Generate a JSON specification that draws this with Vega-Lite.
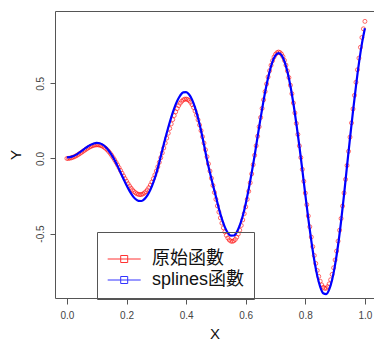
{
  "$schema": "https://vega.github.io/schema/vega-lite/v6.json",
  "autosize": {"type": "none"},
  "width": 319,
  "height": 287,
  "padding": {"left": 55, "top": 11, "right": 0, "bottom": 42},
  "background": "white",
  "config": {
    "view": {"stroke": null},
    "axis": {"grid": false, "labelFont": "Liberation Sans", "titleFont": "Liberation Sans", "domainColor": "#555", "tickColor": "#555", "labelColor": "#444", "titleColor": "#111", "titleFontWeight": "normal", "labelFlush": false, "labelOverlap": false}
  },
  "datasets": {
    "orig": [
      {"x":0,"y":0},{"x":0.005,"y":0.0005},{"x":0.01,"y":0.002},{"x":0.015,"y":0.0044},{"x":0.02,"y":0.0078},{"x":0.025,"y":0.012},{"x":0.03,"y":0.0169},{"x":0.035,"y":0.0225},{"x":0.04,"y":0.0287},{"x":0.045,"y":0.0353},{"x":0.05,"y":0.0421},{"x":0.055,"y":0.049},{"x":0.06,"y":0.0559},{"x":0.065,"y":0.0626},{"x":0.07,"y":0.069},{"x":0.075,"y":0.0748},{"x":0.08,"y":0.08},{"x":0.085,"y":0.0843},{"x":0.09,"y":0.0877},{"x":0.095,"y":0.0899},{"x":0.1,"y":0.0909},{"x":0.105,"y":0.0906},{"x":0.11,"y":0.0889},{"x":0.115,"y":0.0858},{"x":0.12,"y":0.0811},{"x":0.125,"y":0.0748},{"x":0.13,"y":0.067},{"x":0.135,"y":0.0577},{"x":0.14,"y":0.0469},{"x":0.145,"y":0.0347},{"x":0.15,"y":0.0212},{"x":0.155,"y":0.0064},{"x":0.16,"y":-0.0093},{"x":0.165,"y":-0.026},{"x":0.17,"y":-0.0434},{"x":0.175,"y":-0.0614},{"x":0.18,"y":-0.0797},{"x":0.185,"y":-0.098},{"x":0.19,"y":-0.1163},{"x":0.195,"y":-0.1341},{"x":0.2,"y":-0.1514},{"x":0.205,"y":-0.1678},{"x":0.21,"y":-0.183},{"x":0.215,"y":-0.197},{"x":0.22,"y":-0.2094},{"x":0.225,"y":-0.2199},{"x":0.23,"y":-0.2286},{"x":0.235,"y":-0.235},{"x":0.24,"y":-0.2391},{"x":0.245,"y":-0.2407},{"x":0.25,"y":-0.2397},{"x":0.255,"y":-0.2361},{"x":0.26,"y":-0.2297},{"x":0.265,"y":-0.2206},{"x":0.27,"y":-0.2087},{"x":0.275,"y":-0.194},{"x":0.28,"y":-0.1768},{"x":0.285,"y":-0.1569},{"x":0.29,"y":-0.1347},{"x":0.295,"y":-0.1103},{"x":0.3,"y":-0.0838},{"x":0.305,"y":-0.0556},{"x":0.31,"y":-0.0258},{"x":0.315,"y":0.0053},{"x":0.32,"y":0.0373},{"x":0.325,"y":0.0699},{"x":0.33,"y":0.1028},{"x":0.335,"y":0.1356},{"x":0.34,"y":0.168},{"x":0.345,"y":0.1996},{"x":0.35,"y":0.23},{"x":0.355,"y":0.2588},{"x":0.36,"y":0.2857},{"x":0.365,"y":0.3104},{"x":0.37,"y":0.3325},{"x":0.375,"y":0.3518},{"x":0.38,"y":0.3678},{"x":0.385,"y":0.3805},{"x":0.39,"y":0.3894},{"x":0.395,"y":0.3946},{"x":0.4,"y":0.3957},{"x":0.405,"y":0.3928},{"x":0.41,"y":0.3857},{"x":0.415,"y":0.3744},{"x":0.42,"y":0.3589},{"x":0.425,"y":0.3394},{"x":0.43,"y":0.3158},{"x":0.435,"y":0.2884},{"x":0.44,"y":0.2574},{"x":0.445,"y":0.223},{"x":0.45,"y":0.1855},{"x":0.455,"y":0.1452},{"x":0.46,"y":0.1025},{"x":0.465,"y":0.0579},{"x":0.47,"y":0.0116},{"x":0.475,"y":-0.0357},{"x":0.48,"y":-0.0837},{"x":0.485,"y":-0.1318},{"x":0.49,"y":-0.1796},{"x":0.495,"y":-0.2265},{"x":0.5,"y":-0.272},{"x":0.505,"y":-0.3157},{"x":0.51,"y":-0.3569},{"x":0.515,"y":-0.3954},{"x":0.52,"y":-0.4305},{"x":0.525,"y":-0.4618},{"x":0.53,"y":-0.4891},{"x":0.535,"y":-0.5118},{"x":0.54,"y":-0.5297},{"x":0.545,"y":-0.5425},{"x":0.55,"y":-0.55},{"x":0.555,"y":-0.552},{"x":0.56,"y":-0.5483},{"x":0.565,"y":-0.539},{"x":0.57,"y":-0.524},{"x":0.575,"y":-0.5034},{"x":0.58,"y":-0.4772},{"x":0.585,"y":-0.4458},{"x":0.59,"y":-0.4092},{"x":0.595,"y":-0.3678},{"x":0.6,"y":-0.3219},{"x":0.605,"y":-0.272},{"x":0.61,"y":-0.2185},{"x":0.615,"y":-0.1619},{"x":0.62,"y":-0.1027},{"x":0.625,"y":-0.0415},{"x":0.63,"y":0.0212},{"x":0.635,"y":0.0846},{"x":0.64,"y":0.1482},{"x":0.645,"y":0.2112},{"x":0.65,"y":0.2731},{"x":0.655,"y":0.3332},{"x":0.66,"y":0.3908},{"x":0.665,"y":0.4453},{"x":0.67,"y":0.4961},{"x":0.675,"y":0.5426},{"x":0.68,"y":0.5842},{"x":0.685,"y":0.6206},{"x":0.69,"y":0.6512},{"x":0.695,"y":0.6755},{"x":0.7,"y":0.6934},{"x":0.705,"y":0.7045},{"x":0.71,"y":0.7086},{"x":0.715,"y":0.7055},{"x":0.72,"y":0.6953},{"x":0.725,"y":0.6778},{"x":0.73,"y":0.6532},{"x":0.735,"y":0.6216},{"x":0.74,"y":0.5833},{"x":0.745,"y":0.5386},{"x":0.75,"y":0.4877},{"x":0.755,"y":0.4313},{"x":0.76,"y":0.3697},{"x":0.765,"y":0.3035},{"x":0.77,"y":0.2334},{"x":0.775,"y":0.16},{"x":0.78,"y":0.0841},{"x":0.785,"y":0.0063},{"x":0.79,"y":-0.0726},{"x":0.795,"y":-0.1517},{"x":0.8,"y":-0.2303},{"x":0.805,"y":-0.3076},{"x":0.81,"y":-0.3827},{"x":0.815,"y":-0.4548},{"x":0.82,"y":-0.5233},{"x":0.825,"y":-0.5872},{"x":0.83,"y":-0.646},{"x":0.835,"y":-0.699},{"x":0.84,"y":-0.7456},{"x":0.845,"y":-0.7851},{"x":0.85,"y":-0.8172},{"x":0.855,"y":-0.8414},{"x":0.86,"y":-0.8573},{"x":0.865,"y":-0.8648},{"x":0.87,"y":-0.8636},{"x":0.875,"y":-0.8537},{"x":0.88,"y":-0.835},{"x":0.885,"y":-0.8076},{"x":0.89,"y":-0.7718},{"x":0.895,"y":-0.7278},{"x":0.9,"y":-0.6759},{"x":0.905,"y":-0.6166},{"x":0.91,"y":-0.5504},{"x":0.915,"y":-0.4779},{"x":0.92,"y":-0.3998},{"x":0.925,"y":-0.3168},{"x":0.93,"y":-0.2297},{"x":0.935,"y":-0.1393},{"x":0.94,"y":-0.0466},{"x":0.945,"y":0.0476},{"x":0.95,"y":0.1424},{"x":0.955,"y":0.2367},{"x":0.96,"y":0.3296},{"x":0.965,"y":0.4201},{"x":0.97,"y":0.5074},{"x":0.975,"y":0.5904},{"x":0.98,"y":0.6683},{"x":0.985,"y":0.7403},{"x":0.99,"y":0.8055},{"x":0.995,"y":0.8633},{"x":1,"y":0.913}
    ],
    "spl": [
      {"x":0,"y":0.008},{"x":0.01,"y":0.009},{"x":0.02,"y":0.015},{"x":0.03,"y":0.024},{"x":0.04,"y":0.037},{"x":0.05,"y":0.051},{"x":0.06,"y":0.066},{"x":0.07,"y":0.08},{"x":0.08,"y":0.091},{"x":0.09,"y":0.1},{"x":0.1,"y":0.104},{"x":0.11,"y":0.101},{"x":0.12,"y":0.092},{"x":0.13,"y":0.076},{"x":0.14,"y":0.053},{"x":0.15,"y":0.024},{"x":0.16,"y":-0.011},{"x":0.17,"y":-0.051},{"x":0.18,"y":-0.094},{"x":0.19,"y":-0.137},{"x":0.2,"y":-0.179},{"x":0.21,"y":-0.216},{"x":0.22,"y":-0.247},{"x":0.23,"y":-0.27},{"x":0.24,"y":-0.282},{"x":0.25,"y":-0.283},{"x":0.26,"y":-0.271},{"x":0.27,"y":-0.246},{"x":0.28,"y":-0.209},{"x":0.29,"y":-0.159},{"x":0.3,"y":-0.099},{"x":0.31,"y":-0.025},{"x":0.32,"y":0.055},{"x":0.33,"y":0.133},{"x":0.34,"y":0.206},{"x":0.35,"y":0.274},{"x":0.36,"y":0.334},{"x":0.37,"y":0.383},{"x":0.38,"y":0.419},{"x":0.39,"y":0.44},{"x":0.4,"y":0.442},{"x":0.41,"y":0.426},{"x":0.42,"y":0.392},{"x":0.43,"y":0.339},{"x":0.44,"y":0.27},{"x":0.45,"y":0.186},{"x":0.46,"y":0.091},{"x":0.47,"y":-0.008},{"x":0.48,"y":-0.095},{"x":0.49,"y":-0.177},{"x":0.5,"y":-0.254},{"x":0.51,"y":-0.334},{"x":0.52,"y":-0.402},{"x":0.53,"y":-0.457},{"x":0.54,"y":-0.495},{"x":0.55,"y":-0.514},{"x":0.56,"y":-0.513},{"x":0.57,"y":-0.49},{"x":0.58,"y":-0.446},{"x":0.59,"y":-0.383},{"x":0.6,"y":-0.301},{"x":0.61,"y":-0.204},{"x":0.62,"y":-0.096},{"x":0.63,"y":0.021},{"x":0.64,"y":0.147},{"x":0.65,"y":0.27},{"x":0.66,"y":0.387},{"x":0.67,"y":0.491},{"x":0.68,"y":0.578},{"x":0.69,"y":0.645},{"x":0.7,"y":0.686},{"x":0.71,"y":0.702},{"x":0.72,"y":0.688},{"x":0.73,"y":0.647},{"x":0.74,"y":0.577},{"x":0.75,"y":0.483},{"x":0.76,"y":0.366},{"x":0.77,"y":0.231},{"x":0.78,"y":0.083},{"x":0.79,"y":-0.076},{"x":0.8,"y":-0.241},{"x":0.81,"y":-0.4},{"x":0.82,"y":-0.547},{"x":0.83,"y":-0.676},{"x":0.84,"y":-0.78},{"x":0.85,"y":-0.855},{"x":0.86,"y":-0.897},{"x":0.87,"y":-0.903},{"x":0.88,"y":-0.873},{"x":0.89,"y":-0.807},{"x":0.9,"y":-0.707},{"x":0.91,"y":-0.576},{"x":0.92,"y":-0.418},{"x":0.93,"y":-0.24},{"x":0.94,"y":-0.049},{"x":0.95,"y":0.135},{"x":0.96,"y":0.313},{"x":0.97,"y":0.482},{"x":0.98,"y":0.635},{"x":0.99,"y":0.765},{"x":1,"y":0.867}
    ]
  },
  "layer": [
    {
      "data": {"name": "orig"},
      "mark": {"type": "point", "shape": "circle", "filled": false, "size": 16, "strokeWidth": 0.8, "opacity": 0.75},
      "encoding": {
        "x": {"field": "x", "type": "quantitative", "scale": {"domain": [-0.04, 1.0305], "nice": false, "zero": false},
          "axis": {"orient": "bottom", "values": [0, 0.2, 0.4, 0.6, 0.8, 1], "format": ".1f", "tickSize": 6, "labelFontSize": 10, "labelPadding": 6, "title": "X", "titleFontSize": 15, "titleY": 40, "titleBaseline": "alphabetic"}},
        "y": {"field": "y", "type": "quantitative", "scale": {"domain": [-0.929, 0.982], "nice": false, "zero": false},
          "axis": {"values": [-0.5, 0, 0.5], "format": ".1f", "labelExpr": "replace(datum.label, '\u2212', '-')", "labelAngle": -90, "labelAlign": "center", "labelBaseline": "bottom", "tickSize": 5, "labelPadding": 5, "labelFontSize": 10, "title": "Y", "titleFontSize": 15, "titleAngle": -90, "titleX": -35, "titleY": 143.5, "titleAlign": "center", "titleBaseline": "alphabetic"}},
        "color": {"datum": "原始函數", "type": "nominal",
          "scale": {"domain": ["原始函數", "splines函數"], "range": ["#FF0000", "#0000FF"]},
          "legend": {"title": " ", "titleFontSize": 1, "titlePadding": 7.5, "orient": "none", "legendX": 42, "legendY": 221, "direction": "vertical",
            "symbolType": "M-4.714,0H4.714M-1,-1H1V1H-1Z", "symbolSize": 49, "symbolFillColor": "transparent", "symbolStrokeWidth": 1, "symbolOpacity": 0.8,
            "labelFont": "Liberation Sans, Noto Sans CJK TC", "labelFontSize": 18, "labelColor": "#111", "labelOffset": 18.8, "labelLimit": 300,
            "padding": 9.5, "symbolOffset": 8.7, "rowPadding": 3, "strokeColor": "#555", "fillColor": "transparent"}}
      }
    },
    {
      "data": {"name": "spl"},
      "mark": {"type": "line", "strokeWidth": 2.2, "interpolate": "monotone"},
      "encoding": {
        "x": {"field": "x", "type": "quantitative", "axis": {"orient": "top", "ticks": false, "labels": false, "title": null, "domainColor": "#555"}},
        "y": {"field": "y", "type": "quantitative"},
        "color": {"datum": "splines函數", "type": "nominal"}
      }
    }
  ],
  "resolve": {"axis": {"x": "independent"}}
}
